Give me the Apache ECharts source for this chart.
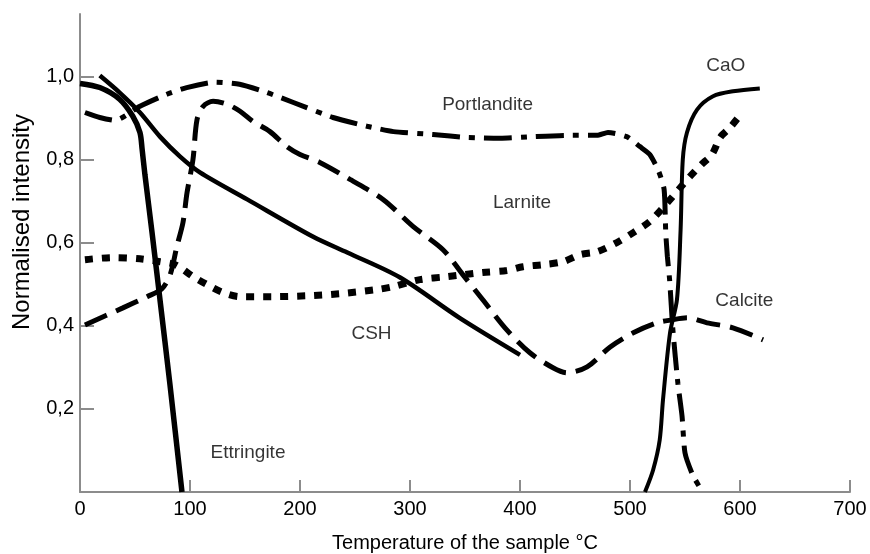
<!DOCTYPE html>
<html>
<head>
<meta charset="utf-8">
<title>Normalised intensity vs temperature</title>
<script src="https://cdn.jsdelivr.net/npm/echarts@6/dist/echarts.min.js"></script>
<style>
  html, body { margin: 0; padding: 0; background: #fff; }
  #chart { width: 870px; height: 554px; }
</style>
</head>
<body>
<div id="chart"></div>
<script>
// temperature (°C) and normalised intensity
const ettringiteT = [0, 18, 36, 48, 54.5, 56.5, 59, 65.5, 72.7, 81.8, 92.7];
const ettringiteI = [0.983, 0.973, 0.945, 0.904, 0.865, 0.824, 0.764, 0.624, 0.463, 0.258, 0];

const larniteT = [18, 36, 54.5, 72.7, 91, 109, 152, 212, 243, 291, 345, 400];
const larniteI = [1.002, 0.961, 0.913, 0.855, 0.807, 0.769, 0.704, 0.614, 0.576, 0.516, 0.419, 0.33];

const caoT = [513.6, 521, 527, 530, 536.4, 542.7, 546, 548, 551.8, 561, 575.5, 593.6, 618];
const caoI = [0, 0.053, 0.125, 0.222, 0.383, 0.463, 0.631, 0.8, 0.865, 0.92, 0.952, 0.964, 0.971];

const portlanditeT = [4.5, 18, 32, 54.5, 79, 97, 123, 145, 170, 194, 230, 261, 285, 321, 352, 382, 412, 443, 470, 480, 497, 509, 518, 526, 531, 532.5, 534, 536, 539, 543.6, 547.3, 550, 557, 566];
const portlanditeI = [0.913, 0.901, 0.894, 0.928, 0.957, 0.973, 0.986, 0.981, 0.961, 0.937, 0.901, 0.88, 0.867, 0.86, 0.853, 0.851, 0.855, 0.858, 0.858, 0.865, 0.855, 0.831, 0.812, 0.772, 0.728, 0.624, 0.566, 0.511, 0.39, 0.26, 0.183, 0.094, 0.041, 0];

const cshT = [4.5, 30, 54.5, 72.7, 86.4, 103, 115.5, 130, 145.5, 175.5, 206, 236, 270, 284.5, 309, 333.6, 366, 388, 402.7, 421, 439, 454.5, 470, 488, 503, 518, 530, 554.5, 565, 574.5, 582, 591, 602];
const cshI = [0.559, 0.564, 0.561, 0.554, 0.547, 0.518, 0.499, 0.48, 0.47, 0.47, 0.472, 0.477, 0.487, 0.494, 0.511, 0.518, 0.528, 0.533, 0.542, 0.547, 0.554, 0.571, 0.578, 0.6, 0.624, 0.651, 0.684, 0.759, 0.788, 0.812, 0.853, 0.877, 0.913];

const calciteT = [4.5, 39, 61, 74.5, 82, 88, 93.6, 97.3, 102.7, 106.4, 112, 121, 133.6, 145.5, 157, 172.7, 188, 200, 218, 245.5, 275.5, 302.7, 330, 348, 366, 388, 409, 430, 442.7, 461, 482, 503, 524.5, 538, 552, 570, 593.6, 621];
const calciteI = [0.402, 0.443, 0.47, 0.489, 0.523, 0.59, 0.648, 0.72, 0.8, 0.896, 0.928, 0.94, 0.933, 0.916, 0.892, 0.867, 0.831, 0.812, 0.793, 0.752, 0.704, 0.639, 0.583, 0.523, 0.463, 0.39, 0.335, 0.299, 0.287, 0.301, 0.349, 0.383, 0.407, 0.414, 0.419, 0.407, 0.395, 0.366];

// curve labels
const labelNames = ['Portlandite', 'Larnite', 'CaO', 'Calcite', 'CSH', 'Ettringite'];
const labelT = [370.5, 401.8, 587, 604, 265, 152.7];
const labelI = [0.932, 0.695, 1.026, 0.461, 0.381, 0.095];

const yTicks = [0.2, 0.4, 0.6, 0.8, 1.0];

const pairs = (t, v) => t.map((x, i) => [x, v[i]]);
const font = '"Liberation Sans", Arial, sans-serif';
const axisGrey = '#8c8c8c';

function curve(name, t, v, width, type, smooth) {
  return {
    name: name,
    type: 'line',
    data: pairs(t, v),
    symbol: 'none',
    smooth: smooth,
    lineStyle: { color: '#000', width: width, type: type, cap: 'butt' },
    z: 3
  };
}

const chart = echarts.init(document.getElementById('chart'));
chart.setOption({
  animation: false,
  backgroundColor: '#fff',
  textStyle: { fontFamily: font },
  grid: { left: 80, right: 20, top: 14, bottom: 62, containLabel: false, outerBoundsMode: 'none' },
  xAxis: {
    type: 'value',
    min: 0,
    max: 700,
    interval: 100,
    name: 'Temperature of the sample °C',
    nameLocation: 'middle',
    nameGap: 41,
    nameTextStyle: { color: '#000', fontSize: 20, fontFamily: font },
    axisLine: { lineStyle: { color: axisGrey, width: 2 } },
    axisTick: { inside: true, length: 12, lineStyle: { color: axisGrey, width: 2 } },
    axisLabel: { color: '#000', fontSize: 20, margin: 7, fontFamily: font },
    splitLine: { show: false }
  },
  yAxis: {
    type: 'value',
    min: 0,
    max: 1.15,
    axisLine: { show: true, lineStyle: { color: axisGrey, width: 2 } },
    axisTick: { show: true, inside: true, length: 14, customValues: yTicks, lineStyle: { color: axisGrey, width: 2 } },
    axisLabel: {
      customValues: yTicks,
      color: '#000',
      fontSize: 20,
      margin: 6,
      fontFamily: font,
      formatter: v => v.toFixed(1).replace('.', ',')
    },
    splitLine: { show: false }
  },
  graphic: [{
    type: 'text',
    x: 22,
    y: 222,
    rotation: Math.PI / 2,
    style: {
      text: 'Normalised intensity',
      fill: '#000',
      font: '24px ' + font,
      textAlign: 'center',
      textVerticalAlign: 'middle'
    }
  }],
  series: [
    curve('Ettringite', ettringiteT, ettringiteI, 5.5, 'solid', 0.3),
    curve('Larnite', larniteT, larniteI, 4.5, 'solid', 0.3),
    curve('CaO', caoT, caoI, 4, 'solid', 0.3),
    curve('Portlandite', portlanditeT, portlanditeI, 5, [28, 9, 6, 9], 0.2),
    curve('CSH', cshT, cshI, 7, [8, 9], 0.3),
    curve('Calcite', calciteT, calciteI, 5, [24, 10], 0.3),
    {
      name: 'labels',
      type: 'scatter',
      symbolSize: 0,
      silent: true,
      data: labelNames.map((n, i) => ({ name: n, value: [labelT[i], labelI[i]] })),
      label: {
        show: true,
        position: 'inside',
        formatter: '{b}',
        color: '#000',
        fontSize: 19,
        fontFamily: font
      },
      z: 5
    }
  ]
});
</script>
</body>
</html>
